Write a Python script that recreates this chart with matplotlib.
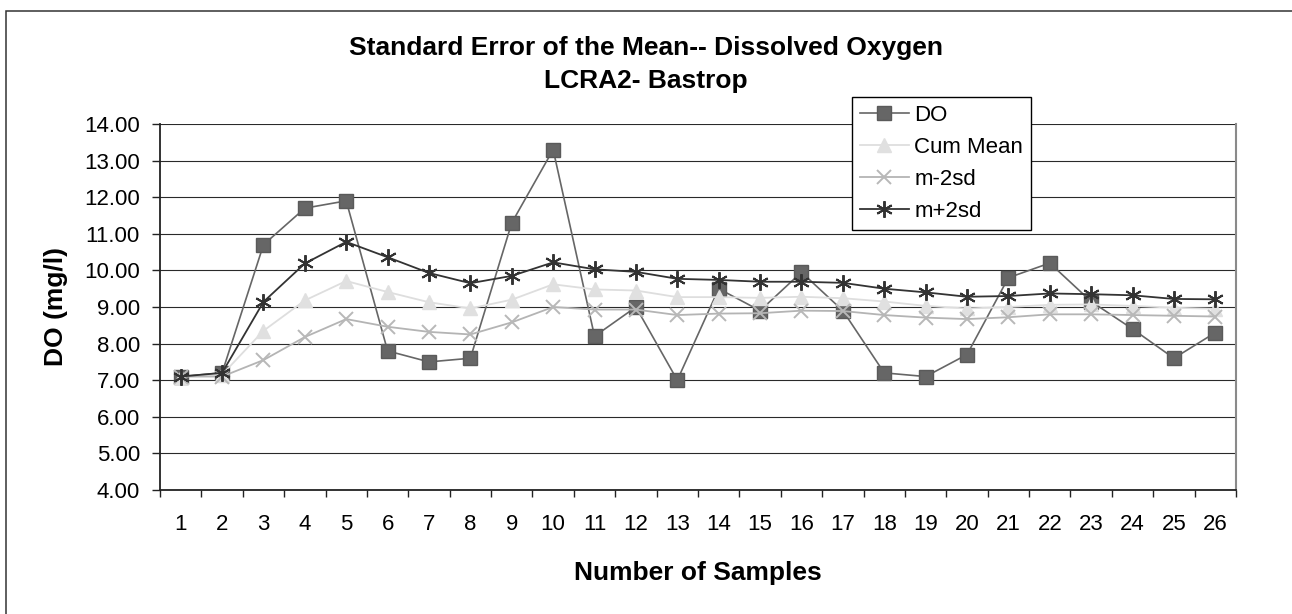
import matplotlib as mpl
mpl.use('agg')
import matplotlib.pyplot as plt
from matplotlib.patches import Rectangle
from matplotlib.ticker import FixedLocator, FormatStrFormatter

plt.rcParams['font.family'] = ['Liberation Sans', 'DejaVu Sans']

samples = list(range(1, 27))
do_vals = [7.1, 7.2, 10.7, 11.7, 11.9, 7.8, 7.5, 7.6, 11.3, 13.3, 8.2, 9.0, 7.0,
           9.5, 8.9, 9.95, 8.9, 7.2, 7.1, 7.7, 9.8, 10.2, 9.15, 8.4, 7.6, 8.3]
cum_mean = [7.1, 7.15, 8.35, 9.18, 9.71, 9.41, 9.13, 8.96, 9.2, 9.62, 9.48, 9.45, 9.27,
            9.27, 9.25, 9.28, 9.24, 9.15, 9.03, 8.96, 9.0, 9.06, 9.07, 9.03, 8.98, 8.95]
m_minus = [7.1, 7.1, 7.55, 8.18, 8.67, 8.46, 8.32, 8.25, 8.58, 9.0, 8.93, 8.93, 8.78,
           8.82, 8.83, 8.9, 8.89, 8.78, 8.71, 8.67, 8.72, 8.8, 8.8, 8.78, 8.76, 8.74]
m_plus = [7.1, 7.2, 9.14, 10.19, 10.78, 10.36, 9.93, 9.65, 9.85, 10.22, 10.03, 9.96, 9.77,
          9.74, 9.69, 9.69, 9.66, 9.5, 9.4, 9.28, 9.3, 9.37, 9.35, 9.32, 9.22, 9.21]
series_names = ['DO', 'Cum Mean', 'm-2sd', 'm+2sd']

W, H = 1292, 614
fig = plt.figure(figsize=(W / 100, H / 100), dpi=100)
ax = fig.add_axes([160 / W, 1 - 490 / H, 1076 / W, 366 / H])

# outer chart border (right/bottom edges fall outside the picture)
fig.patches.append(Rectangle((6 / W, -0.1), 1.2, 1.1 - 11 / H, transform=fig.transFigure,
                             fill=False, edgecolor='#333333', linewidth=1.1, clip_on=False))

ax.plot(samples, do_vals, color='#666666', lw=1.2, marker='s', ms=9.5,
        mfc='#666666', mec='#5a5a5a', label=series_names[0])
ax.plot(samples, cum_mean, color='#dedede', lw=1.3, marker='^', ms=10,
        mfc='#e0e0e0', mec='#e0e0e0', label=series_names[1])
ax.plot(samples, m_minus, color='#b4b4b4', lw=1.3, marker='x', ms=10, mew=1.4,
        mec='#b8b8b8', label=series_names[2])
ax.plot(samples, m_plus, color='#333333', lw=1.3, marker=(6, 2, 0), ms=12, mew=1.4,
        mec='#333333', label=series_names[3])

ax.set_xlim(0.5, 26.5)
ax.set_ylim(4, 14)
ax.yaxis.set_major_locator(FixedLocator(range(4, 15)))
ax.yaxis.set_major_formatter(FormatStrFormatter('%.2f'))
ax.set_xticks(samples)
ax.set_xticks([s + 0.5 for s in range(0, 27)], minor=True)

ax.grid(axis='y', color='#2a2a2a', linewidth=0.8)
ax.set_axisbelow(True)

ax.tick_params(axis='y', which='major', direction='out', length=6, width=1,
               pad=8.5, labelsize=16, colors='#222222', labelcolor='black')
ax.tick_params(axis='x', which='major', length=0, pad=17, labelsize=16)
ax.tick_params(axis='x', which='minor', direction='out', length=5, width=1, color='#222222')

ax.spines['top'].set_visible(False)
ax.spines['left'].set_color('#222222')
ax.spines['left'].set_linewidth(1.3)
ax.spines['bottom'].set_color('#222222')
ax.spines['bottom'].set_linewidth(1.3)
ax.spines['right'].set_color('#8a8a8a')
ax.spines['right'].set_linewidth(1.5)

ax.set_ylabel('DO (mg/l)', fontsize=19, fontweight='bold')
ax.yaxis.set_label_coords(-0.0855, 0.5)
ax.set_xlabel('Number of Samples', fontsize=19, fontweight='bold')
ax.xaxis.set_label_coords(0.5, -0.194)

fig.text(646 / W, 1 - 55 / H, 'Standard Error of the Mean-- Dissolved Oxygen',
         ha='center', va='baseline', fontsize=19, fontweight='bold')
fig.text(646 / W, 1 - 88 / H, 'LCRA2- Bastrop',
         ha='center', va='baseline', fontsize=19, fontweight='bold')

leg = ax.legend(loc='upper left', bbox_to_anchor=(852 / W, 1 - 97 / H),
                bbox_transform=fig.transFigure, fontsize=16, frameon=True,
                fancybox=False, framealpha=1, edgecolor='black', borderpad=0.35,
                handlelength=2.2, handletextpad=0.25, labelspacing=0.5,
                borderaxespad=0)
leg.get_frame().set_linewidth(1.0)

fig.savefig('out.png', dpi=100)
plt.close(fig)
